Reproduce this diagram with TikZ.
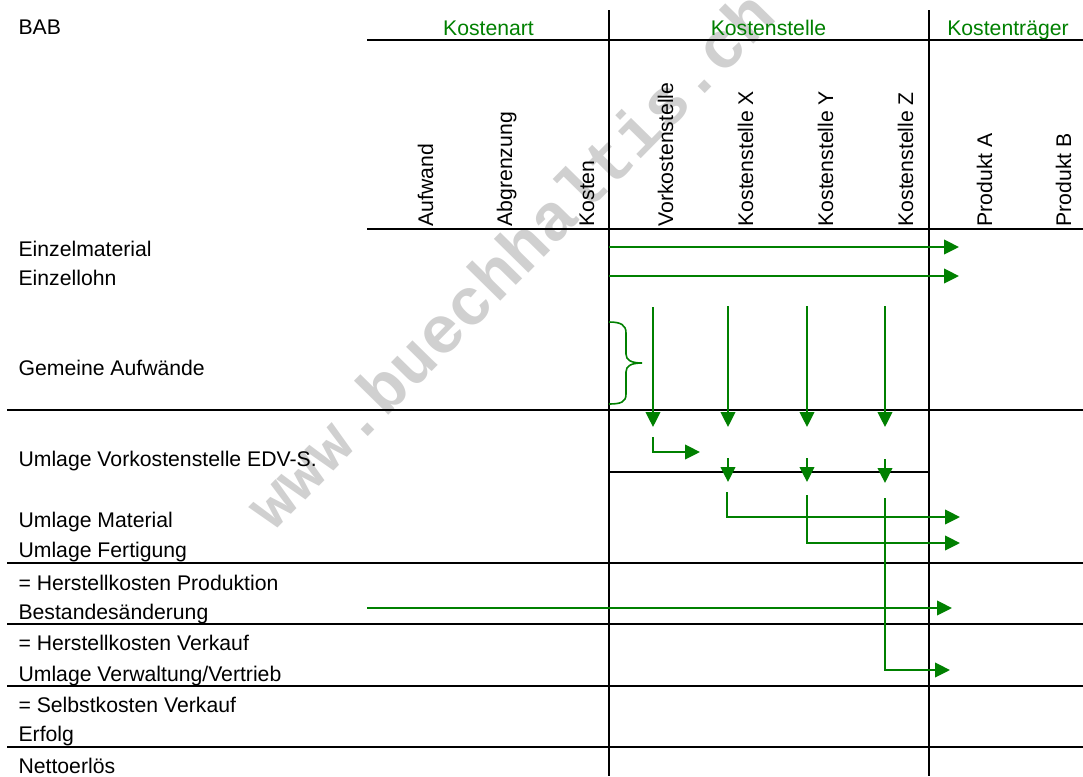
\documentclass[tikz,border=0pt]{standalone}
\usepackage{fontspec}
\setmainfont{Liberation Sans}
\newfontfamily\wmfont{Liberation Mono}
\usetikzlibrary{arrows.meta}
\definecolor{bgreen}{RGB}{0,128,0}
\definecolor{wmgray}{RGB}{208,208,208}
\begin{document}
\begin{tikzpicture}[x=0.75pt,y=-0.75pt,
  grid/.style={line width=1.5pt, black},
  flow/.style={line width=1.2pt, bgreen, -{Triangle[length=11.25pt,width=11pt]}},
  lab/.style={inner sep=0pt, anchor=base west, font=\fontsize{15.9}{19}\selectfont},
  hdr/.style={inner sep=0pt, anchor=base, text=bgreen, font=\fontsize{15.9}{19}\selectfont},
  rot/.style={inner sep=0pt, anchor=base west, rotate=90, font=\fontsize{15.9}{19}\selectfont},
  wm/.style={inner sep=0pt, anchor=base, rotate=45.5, text=wmgray, font=\wmfont\bfseries\fontsize{50}{52}\selectfont}]
\useasboundingbox (0,0) rectangle (1083,776);
% watermark
\node[wm] (watermark) at (526,276) {www.buechhaltis.ch};
% grid lines
\draw[grid] (609,10) -- (609,776);
\draw[grid] (929,10) -- (929,776);
\draw[grid] (367,40) -- (1083,40);
\draw[grid] (367,229) -- (1083,229);
\draw[grid] (7,410) -- (1083,410);
\draw[grid] (609,472) -- (929,472);
\draw[grid] (7,563) -- (1083,563);
\draw[grid] (7,624) -- (1083,624);
\draw[grid] (7,686) -- (1083,686);
\draw[grid] (7,747) -- (1083,747);
% headers
\node[lab] (bab) at (18.3,34.5) {BAB};
\node[hdr] (hart) at (488.5,35) {Kostenart};
\node[hdr] (hstelle) at (768.5,35) {Kostenstelle};
\node[hdr] (htraeger) at (1008,35) {Kostenträger};
% rotated column heads
\node[rot] (c1) at (433,226.7) {Aufwand};
\node[rot] (c2) at (512,226.7) {Abgrenzung};
\node[rot] (c3) at (594,226.7) {Kosten};
\node[rot] (c4) at (673,226.7) {Vorkostenstelle};
\node[rot] (c5) at (753,226.7) {Kostenstelle X};
\node[rot] (c6) at (833,226.7) {Kostenstelle Y};
\node[rot] (c7) at (913,226.7) {Kostenstelle Z};
\node[rot] (c8) at (992,226.7) {Produkt A};
\node[rot] (c9) at (1071,226.7) {Produkt B};
% row labels
\node[lab] (r1) at (18.3,256.2) {Einzelmaterial};
\node[lab] (r2) at (18.3,285.9) {Einzellohn};
\node[lab] (r3) at (18.3,375) {Gemeine Aufwände};
\node[lab] (r4) at (18.3,466.8) {Umlage Vorkostenstelle EDV-S.};
\node[lab] (r5) at (18.3,527.9) {Umlage Material};
\node[lab] (r6) at (18.3,557.6) {Umlage Fertigung};
\node[lab] (r7) at (18.3,590.5) {= Herstellkosten Produktion};
\node[lab] (r8) at (18.3,619.4) {Bestandesänderung};
\node[lab] (r9) at (18.3,650.9) {= Herstellkosten Verkauf};
\node[lab] (r10) at (18.3,681.3) {Umlage Verwaltung/Vertrieb};
\node[lab] (r11) at (18.3,712) {= Selbstkosten Verkauf};
\node[lab] (r12) at (18.3,741.7) {Erfolg};
\node[lab] (r13) at (18.3,773.1) {Nettoerlös};
% coordinates for flows
\coordinate (a1s) at (609,247);  \coordinate (a1e) at (959,247);
\coordinate (a2s) at (609,276);  \coordinate (a2e) at (959,276);
\coordinate (v1s) at (653,307);  \coordinate (v1e) at (653,427);
\coordinate (v2s) at (728,306);  \coordinate (v2e) at (728,427);
\coordinate (v3s) at (807,306);  \coordinate (v3e) at (807,427);
\coordinate (v4s) at (885,306);  \coordinate (v4e) at (885,427);
\coordinate (ls) at (653,437);   \coordinate (lc) at (653,452);  \coordinate (le) at (700,452);
\coordinate (d1s) at (728,458);  \coordinate (d1e) at (728,482);
\coordinate (d2s) at (807,458);  \coordinate (d2e) at (807,482);
\coordinate (d3s) at (885,459);  \coordinate (d3e) at (885,483);
\coordinate (b1s) at (727,492);  \coordinate (b1c) at (727,517); \coordinate (b1e) at (960,517);
\coordinate (b2s) at (807,495);  \coordinate (b2c) at (807,543); \coordinate (b2e) at (960,543);
\coordinate (b3s) at (885,498);  \coordinate (b3c) at (885,670); \coordinate (b3e) at (950,670);
\coordinate (bes) at (367,608);  \coordinate (bee) at (952,608);
% flows
\draw[flow] (a1s) -- (a1e);
\draw[flow] (a2s) -- (a2e);
\draw[flow] (v1s) -- (v1e);
\draw[flow] (v2s) -- (v2e);
\draw[flow] (v3s) -- (v3e);
\draw[flow] (v4s) -- (v4e);
\draw[flow] (ls) -- (lc) -- (le);
\draw[flow] (d1s) -- (d1e);
\draw[flow] (d2s) -- (d2e);
\draw[flow] (d3s) -- (d3e);
\draw[flow] (b1s) -- (b1c) -- (b1e);
\draw[flow] (b2s) -- (b2c) -- (b2e);
\draw[flow] (b3s) -- (b3c) -- (b3e);
\draw[flow] (bes) -- (bee);
% brace
\draw[line width=1.2pt, bgreen] (609,322) .. controls (621,322) and (626,325) .. (626,333) -- (626,354)
  .. controls (626,360) and (631,363) .. (642,363)
  .. controls (631,363) and (626,366) .. (626,372) -- (626,394)
  .. controls (626,402) and (621,404) .. (609,404);
\end{tikzpicture}
\end{document}
